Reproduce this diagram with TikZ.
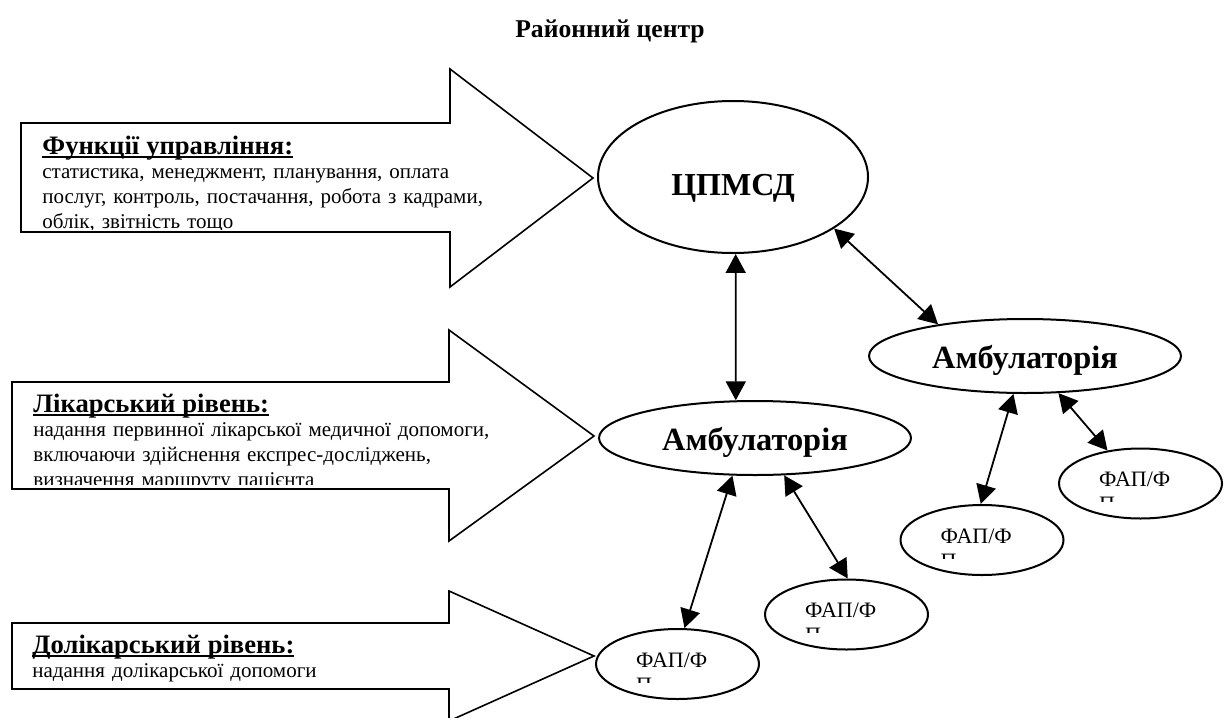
\documentclass[tikz,border=0pt]{standalone}
\usepackage{fontspec}
\setmainfont{Liberation Serif}
\usetikzlibrary{arrows.meta,shapes.geometric}

\newcommand{\ulhead}[1]{\sbox0{#1}\rlap{\rule[-2.2pt]{\wd0}{1.2pt}}\usebox0}
\newcommand{\headfont}{\fontsize{13.3}{12.4}\selectfont\bfseries}

\begin{document}
\begin{tikzpicture}
  [x=0.5pt,y=-0.5pt,
   bigarrow/.style={draw,line width=0.8pt,line join=miter},
   leveltext/.style={anchor=base west,inner sep=0pt,text width=260pt,align=left,
     font=\fontsize{10.5}{12.4}\selectfont},
   hub/.style={ellipse,draw,line width=1pt,inner sep=0pt,minimum width=135pt,minimum height=76pt,
     text height=18pt,text depth=0pt,font=\fontsize{16}{19}\selectfont\bfseries},
   clinic/.style={ellipse,draw,line width=1pt,inner sep=0pt,minimum width=156pt,minimum height=37pt,
     text height=12pt,text depth=0pt,font=\fontsize{16.2}{18}\selectfont\bfseries},
   fap/.style={ellipse,draw,line width=1pt,inner sep=0pt,minimum width=81.5pt,minimum height=35pt,
     path picture={
       \clip (path picture bounding box.north west) rectangle ([yshift=-9pt]path picture bounding box.east);
       \node[rectangle,draw=none,minimum size=0pt,anchor=base west,inner sep=0pt,text width=60pt,align=left,
         font=\fontsize{11}{12.5}\selectfont]
         at ([xshift=19.5pt,yshift=-1.5pt]path picture bounding box.west) {ФАП/Ф\\П};}},
   link/.style={line width=0.9pt,arrows={Triangle[length=9.5pt,width=10pt]-Triangle[length=9.5pt,width=10pt]}}]
  \useasboundingbox (0,0) rectangle (1224,717);

  \node[anchor=base,inner sep=0pt,font=\fontsize{12.8}{15}\selectfont\bfseries] (title) at (610,38) {Районний центр};

  % level arrows
  \draw[bigarrow] (21,123) -- (450,123) -- (450,69) -- (593,178) -- (450,287) -- (450,232) -- (21,232) -- cycle;
  \draw[bigarrow] (12,382) -- (449,382) -- (449,330) -- (594,436) -- (449,541) -- (449,489) -- (12,489) -- cycle;
  \draw[bigarrow] (12,623) -- (449,623) -- (449,591) -- (594,656) -- (449,721) -- (449,689) -- (12,689) -- cycle;

  \begin{scope}
    \clip (21,123) rectangle (520,229);
    \node[leveltext] (mgmt) at (42,154) {{\headfont\ulhead{Функції управління:}}\\
      статистика, менеджмент, планування, оплата\\
      послуг, контроль, постачання, робота з кадрами,\\
      облік, звітність тощо};
  \end{scope}
  \begin{scope}
    \clip (12,382) rectangle (520,484);
    \node[leveltext] (doctor) at (33,412) {{\headfont\ulhead{Лікарський рівень:}}\\
      надання первинної лікарської медичної допомоги,\\
      включаючи здійснення експрес-досліджень,\\
      визначення маршруту пацієнта};
  \end{scope}
  \node[leveltext] (predoctor) at (32,653) {{\headfont\ulhead{Долікарський рівень:}}\\
    надання долікарської допомоги};

  % centre and its units
  \node[hub] (cpmsd) at (733,177) {ЦПМСД};
  \node[clinic] (amb1) at (755,438) {Амбулаторія};
  \node[clinic] (amb2) at (1025,356) {Амбулаторія};
  \node[fap] (fapa) at (677.5,664) {};
  \node[fap] (fapb) at (846.5,614.5) {};
  \node[fap] (fapc) at (982,540) {};
  \node[fap] (fapd) at (1140.5,483.5) {};

  \draw[link] (cpmsd.-88) -- (amb1.117);
  \draw[link] (cpmsd.-27) -- (amb2.160);
  \draw[link] (amb1.-121) -- (fapa.79);
  \draw[link] (amb1.-52) -- (fapb.88);
  \draw[link] (amb2.-107) -- (fapc.92);
  \draw[link] (amb2.-48) -- (fapd.135);
\end{tikzpicture}
\end{document}
